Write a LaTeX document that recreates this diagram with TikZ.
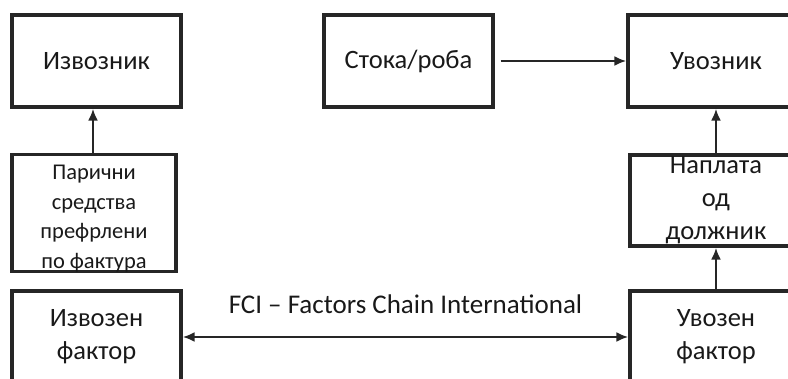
\documentclass[tikz,border=0pt]{standalone}
\usepackage{fontspec}
\setmainfont{Carlito}
\usetikzlibrary{positioning,arrows.meta}

\begin{document}
\begin{tikzpicture}[x=1pt, y=-1pt, >={Latex[length=12pt,width=10pt]},
  box/.style={draw=black!85, line width=3.2pt, inner sep=0pt, align=center,
    text=black!90, font=\fontsize{26.5}{33}\selectfont},
  link/.style={draw=black!85, line width=2.8pt}]
\useasboundingbox (0,0) rectangle (788,378);
% left column
\node (exporter) [box, minimum width=169pt, minimum height=92pt] at (96.5,61) {Извозник};
\node (funds) [box, minimum width=164pt, minimum height=115pt,
  font=\fontsize{22.5}{29.5}\selectfont] at (94,213) {\\[-4pt]Парични\\средства\\префрлени\\по фактура};
\node (expfactor) [box, minimum width=169pt, minimum height=92pt] at (96.5,337) {Извозен\\фактор};
% goods
\node (goods) [box, minimum width=169pt, minimum height=92pt] at (408.5,61) {Стока/роба};
% right column
\node (importer) [box, minimum width=176pt, minimum height=92pt] at (716,61) {Увозник};
\node (payment) [box, minimum width=172pt, minimum height=91pt] at (716,200.5) {Наплата\\од\\должник};
\node (impfactor) [box, minimum width=172pt, minimum height=92pt] at (716,337) {Увозен\\фактор};

\draw[link,->] (funds.north -| 93,0) -- (exporter.south -| 93,0);
\draw[link,->] ([xshift=6pt]goods.east) -- (importer.west);
\draw[link,->] (payment.north) -- (importer.south);
\draw[link,->] (impfactor.north) -- (payment.south);
\draw[link,<->] (expfactor.east) -- node (fci) [above=19pt, text=black!90, font=\fontsize{27}{30}\selectfont] {FCI – Factors Chain International} (impfactor.west);
\end{tikzpicture}
\end{document}
